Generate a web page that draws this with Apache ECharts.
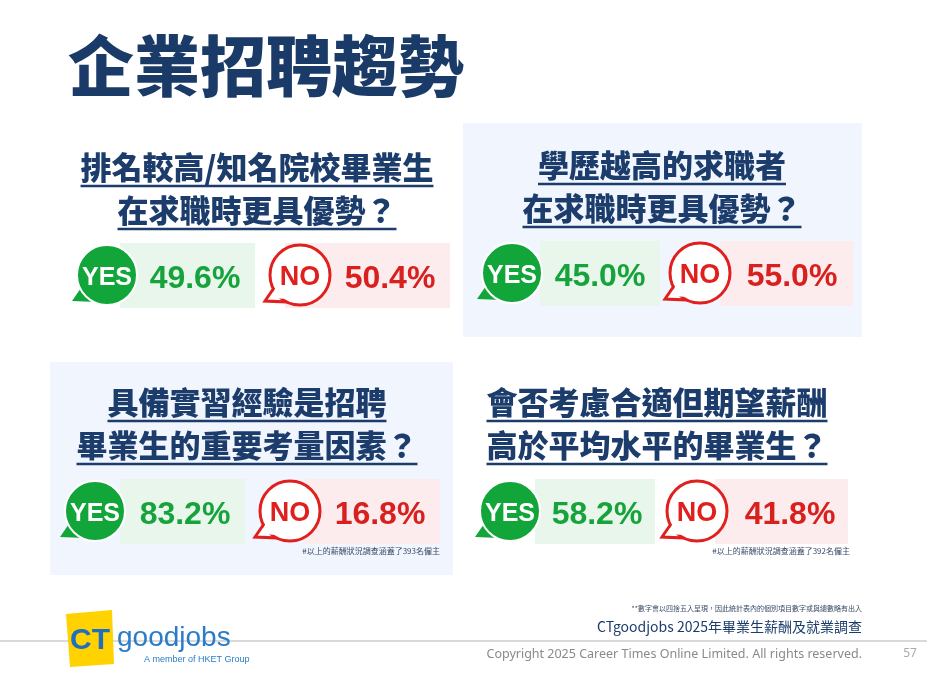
<!DOCTYPE html>
<html><head><meta charset="utf-8">
<script src="https://cdn.jsdelivr.net/npm/echarts@6/dist/echarts.min.js"></script>
<style>html,body{margin:0;padding:0;background:#fff}#c{width:927px;height:676px}</style>
</head><body><div id="c"></div>
<script>
const title = '企業招聘趨勢';
const questions = [
  ['排名較高/知名院校畢業生','在求職時更具優勢？'],
  ['學歷越高的求職者','在求職時更具優勢？'],
  ['具備實習經驗是招聘','畢業生的重要考量因素？'],
  ['會否考慮合適但期望薪酬','高於平均水平的畢業生？']
];
const yesValues = [49.6, 45.0, 83.2, 58.2];
const noValues = [50.4, 55.0, 16.8, 41.8];
const notes = ['', '', '#以上的薪酬狀況調查涵蓋了393名僱主', '#以上的薪酬狀況調查涵蓋了392名僱主'];

const panels = [
  {bg:null, cx:257, qy:[167,210], by:275, yb:107, ybox:[120,255], nb:300, nbox:[285,450], yt:195, nt:390},
  {bg:[463,123,399,214], cx:662, qy:[165,208], by:273, yb:512, ybox:[540,660], nb:700, nbox:[720,853], yt:600, nt:792},
  {bg:[50,362,403,213], cx:247, qy:[402,445], by:511, yb:95, ybox:[120,245], nb:290, nbox:[305,440], yt:185, nt:380, notex:440},
  {bg:null, cx:657, qy:[402,445], by:511, yb:510, ybox:[535,655], nb:697, nbox:[715,848], yt:597, nt:790, notex:850}
];
const navy = '#1c3d6b';
const qFont = '900 31px "Noto Sans CJK TC"';
const cv = document.createElement('canvas').getContext('2d');
function tw(t, f){ cv.font = f; return cv.measureText(t).width; }

const g = [];
g.push({type:'text', x:68, y:66, style:{text:title, fill:'#1a3a68', font:'900 66px "Noto Sans CJK TC"', verticalAlign:'middle'}});
function bubble(cx, cy, yes){
  const col = yes ? '#12a63a' : '#e0201e';
  const r = 30;
  const out = [];
  out.push({type:'polygon', shape:{points:[[cx-24,cy+10],[cx-35,cy+r-4],[cx-10,cy+r-3]]},
    style: yes ? {fill:col} : {fill:'#fff', stroke:col, lineWidth:3}});
  out.push({type:'circle', shape:{cx, cy, r}, style: yes ? {fill:col, stroke:'#fff', lineWidth:2} : {fill:'#fff', stroke:col, lineWidth:3}});
  if(!yes) out.push({type:'polygon', shape:{points:[[cx-24,cy+12],[cx-30,cy+r-7],[cx-12,cy+r-6]]}, style:{fill:'#fff'}});
  out.push({type:'text', x:cx, y:cy+3, style:{text: yes?'YES':'NO', fill: yes?'#fff':col, font:'bold '+(yes?25:27)+'px "Liberation Sans"', align:'center', verticalAlign:'middle'}});
  return out;
}
panels.forEach((p,i)=>{
  if(p.bg) g.push({type:'rect', shape:{x:p.bg[0], y:p.bg[1], width:p.bg[2], height:p.bg[3]}, style:{fill:'#f1f5fd'}});
  questions[i].forEach((t,k)=>{
    const w = tw(t, qFont);
    g.push({type:'text', x:p.cx, y:p.qy[k], style:{text:t, fill:navy, font:qFont, align:'center', verticalAlign:'middle'}});
    g.push({type:'line', shape:{x1:p.cx-w/2, y1:p.qy[k]+19, x2:p.cx+w/2, y2:p.qy[k]+19}, style:{stroke:navy, lineWidth:2.5}});
  });
  g.push({type:'rect', shape:{x:p.ybox[0], y:p.by-32, width:p.ybox[1]-p.ybox[0], height:65}, style:{fill:'#e8f6ec'}});
  g.push({type:'rect', shape:{x:p.nbox[0], y:p.by-32, width:p.nbox[1]-p.nbox[0], height:65}, style:{fill:'#fdeced'}});
  bubble(p.yb, p.by, true).forEach(e=>g.push(e));
  bubble(p.nb, p.by, false).forEach(e=>g.push(e));
  g.push({type:'text', x:p.yt, y:p.by+4, style:{text:yesValues[i].toFixed(1)+'%', fill:'#17a33b', font:'bold 32px "Liberation Sans"', align:'center', verticalAlign:'middle'}});
  g.push({type:'text', x:p.nt, y:p.by+4, style:{text:noValues[i].toFixed(1)+'%', fill:'#d8201f', font:'bold 32px "Liberation Sans"', align:'center', verticalAlign:'middle'}});
  if(notes[i]) g.push({type:'text', x:p.notex, y:551, style:{text:notes[i], fill:'#3a4a66', font:'8px "Noto Sans CJK TC"', align:'right', verticalAlign:'middle'}});
});
g.push({type:'text', x:862, y:608, style:{text:'**數字會以四捨五入呈現，因此統計表內的個別項目數字或與總數略有出入', fill:'#3a4a66', font:'7px "Noto Sans CJK TC"', align:'right', verticalAlign:'middle'}});
g.push({type:'text', x:862, y:627, style:{text:'CTgoodjobs 2025年畢業生薪酬及就業調查', fill:navy, font:'14px "Noto Sans CJK TC"', align:'right', verticalAlign:'middle'}});
g.push({type:'line', shape:{x1:0,y1:641,x2:927,y2:641}, style:{stroke:'#cccccc', lineWidth:1.5}});
g.push({type:'text', x:862, y:654, style:{text:'Copyright 2025 Career Times Online Limited. All rights reserved.', fill:'#8a8a8a', font:'12.5px "Noto Sans"', align:'right', verticalAlign:'middle'}});
g.push({type:'text', x:910, y:654, style:{text:'57', fill:'#aaaaaa', font:'12px "Noto Sans"', align:'center', verticalAlign:'middle'}});
g.push({type:'polygon', shape:{points:[[66,614],[112,610],[114,664],[70,667]]}, style:{fill:'#ffd200'}});
g.push({type:'text', x:90, y:641, style:{text:'CT', fill:'#1e6fbf', font:'bold 30px "Liberation Sans"', align:'center', verticalAlign:'middle'}});
g.push({type:'text', x:117, y:638, style:{text:'goodjobs', fill:'#2a7cc8', font:'28px "Liberation Sans"', verticalAlign:'middle'}});
g.push({type:'text', x:144, y:660, style:{text:'A member of HKET Group', fill:'#2a7cc8', font:'9px "Liberation Sans"', verticalAlign:'middle'}});

const chart = echarts.init(document.getElementById('c'));
chart.setOption({graphic:{elements:g}});
</script></body></html>
